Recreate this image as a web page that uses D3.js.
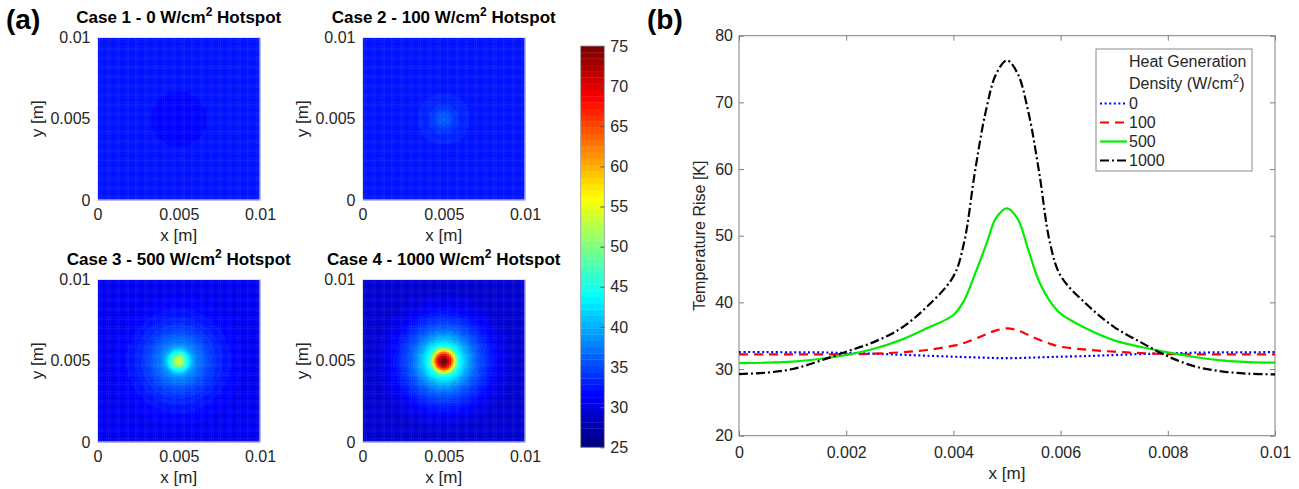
<!DOCTYPE html>
<html>
<head>
<meta charset="utf-8">
<script src="https://cdn.jsdelivr.net/npm/d3@7"></script>
<style>
  html, body { margin: 0; padding: 0; background: #fff; }
  svg { display: block; font-family: Arial, "Liberation Sans", Helvetica, sans-serif; }
</style>
</head>
<body>
<svg id="svg" width="1299" height="489"></svg>
<script>
// ── Data ──────────────────────────────────────────────────────────────────────

// x positions (m) along the centre line y = 0.005
const xPos = [0, 0.0005, 0.001, 0.0015, 0.002, 0.0025, 0.003, 0.0035, 0.004, 0.0042,
  0.0044, 0.0046, 0.0048, 0.005, 0.0052, 0.0054, 0.0056, 0.0058, 0.006, 0.0065,
  0.007, 0.0075, 0.008, 0.0085, 0.009, 0.0095, 0.01];

// temperature rise (K) for each hotspot heat generation density
const rise0    = [32.55, 32.55, 32.5, 32.5, 32.4, 32.3, 32.15, 32.0, 31.85, 31.8,
  31.75, 31.7, 31.65, 31.65, 31.65, 31.7, 31.75, 31.8, 31.85, 31.95,
  32.1, 32.25, 32.35, 32.45, 32.5, 32.5, 32.55];
const rise100  = [32.2, 32.2, 32.2, 32.2, 32.2, 32.3, 32.5, 32.85, 33.5, 33.9,
  34.5, 35.2, 35.8, 36.1, 35.8, 35.1, 34.4, 33.8, 33.35, 32.9,
  32.6, 32.4, 32.25, 32.2, 32.2, 32.2, 32.2];
const rise500  = [30.9, 30.95, 31.1, 31.5, 32.1, 33.0, 34.3, 36.1, 38.1, 40.3,
  44.2, 48.4, 52.7, 54.1, 52.5, 47.8, 43.1, 40.2, 38.3, 36.0,
  34.3, 33.3, 32.5, 31.8, 31.3, 31.05, 30.95];
const rise1000 = [29.25, 29.45, 30.0, 31.2, 32.6, 34.0, 36.0, 39.3, 43.9, 49.0,
  59.5, 68.5, 74.3, 76.3, 74.3, 68.5, 59.5, 49.0, 44.0, 39.6,
  36.3, 34.0, 31.9, 30.4, 29.65, 29.3, 29.2];

const densities   = ['0', '100', '500', '1000'];
const caseNames   = ['Case 1', 'Case 2', 'Case 3', 'Case 4'];
const allSeries   = [rise0, rise100, rise500, rise1000];

const mapTicks    = [0, 0.005, 0.01];
const barTicks    = [25, 30, 35, 40, 45, 50, 55, 60, 65, 70, 75];
const riseTicks   = [20, 30, 40, 50, 60, 70, 80];
const xLineTicks  = [0, 0.002, 0.004, 0.006, 0.008, 0.01];

// ── Layout ────────────────────────────────────────────────────────────────────

const svg = d3.select('#svg');
const TEXT = '#262626';
const AXIS = '#808080';
const FONT = 'Arial, "Liberation Sans", sans-serif';

const mapLeft = [97.5, 362.5];
const mapTop  = [37.5, 279.5];
const mapSize = 162.5;

const bar  = { x: 580.7, y: 46, w: 23.6, h: 401.3 };
const plot = { x: 739, y: 35.7, w: 536, h: 400 };

// ── Jet colormap (64 levels) ──────────────────────────────────────────────────

const clamp01 = v => Math.max(0, Math.min(1, v));
function jet(t) {
  return d3.rgb(
    255 * clamp01(1.5 - Math.abs(4 * t - 3)),
    255 * clamp01(1.5 - Math.abs(4 * t - 2)),
    255 * clamp01(1.5 - Math.abs(4 * t - 1))
  ).formatHex();
}
const jetColors = d3.range(64).map(i => jet(i / 63));
const color = d3.scaleQuantize().domain([25, 75]).range(jetColors);

// ── Panel labels ──────────────────────────────────────────────────────────────

svg.append('text').attr('x', 6).attr('y', 29).text('(a)')
  .style('font-size', '28px').style('font-weight', 'bold').style('fill', '#000');
svg.append('text').attr('x', 647).attr('y', 29).text('(b)')
  .style('font-size', '28px').style('font-weight', 'bold').style('fill', '#000');

// ── Heat maps ─────────────────────────────────────────────────────────────────

const nCells = 90;
const cellW  = 0.01 / nCells;

allSeries.forEach((series, k) => {
  const left = mapLeft[k % 2];
  const top  = mapTop[Math.floor(k / 2)];
  const sx = d3.scaleLinear().domain([0, 0.01]).range([left, left + mapSize]);
  const sy = d3.scaleLinear().domain([0, 0.01]).range([top + mapSize, top]);

  // radial profile taken from the centre-line curve
  const profile = d3.scaleLinear().domain(xPos).range(series).clamp(true);
  const cells = [];
  for (let i = 0; i < nCells; i++) {
    for (let j = 0; j < nCells; j++) {
      const cx = (i + 0.5) * cellW, cy = (j + 0.5) * cellW;
      const r  = Math.hypot(cx - 0.005, cy - 0.005);
      const t  = (profile(0.005 - r) + profile(0.005 + r)) / 2;
      cells.push({ i, j, t });
    }
  }

  const g = svg.append('g');
  const cw = sx(cellW) - sx(0);
  g.selectAll('rect.cell')
    .data(cells)
    .join('rect')
    .attr('class', 'cell')
    .attr('x', d => sx(d.i * cellW))
    .attr('y', d => sy((d.j + 1) * cellW))
    .attr('width', cw + 0.4)
    .attr('height', cw + 0.4)
    .attr('fill', d => color(d.t));

  g.append('rect')
    .attr('x', left).attr('y', top).attr('width', mapSize).attr('height', mapSize)
    .attr('fill', 'none').attr('stroke', '#dde3f2').attr('stroke-width', 1);

  const xAxis = g.append('g').attr('transform', `translate(0,${top + mapSize})`)
    .call(d3.axisBottom(sx).tickValues(mapTicks).tickFormat(d => String(d)).tickSize(0).tickPadding(8.5));
  const yAxis = g.append('g').attr('transform', `translate(${left},0)`)
    .call(d3.axisLeft(sy).tickValues(mapTicks).tickFormat(d => String(d)).tickSize(0).tickPadding(7));
  [xAxis, yAxis].forEach(a => {
    a.select('.domain').remove();
    a.selectAll('text').style('font-size', '16px').style('fill', TEXT).style('font-family', FONT);
  });

  g.append('text')
    .attr('x', left + mapSize / 2).attr('y', top + mapSize + 40.5)
    .attr('text-anchor', 'middle').text('x [m]')
    .style('font-size', '17px').style('fill', TEXT);
  g.append('text')
    .attr('transform', `translate(${left - 55},${top + mapSize / 2}) rotate(-90)`)
    .attr('text-anchor', 'middle').text('y [m]')
    .style('font-size', '17px').style('fill', TEXT);

  const title = g.append('text')
    .attr('x', left + mapSize / 2).attr('y', top - 15)
    .attr('text-anchor', 'middle')
    .style('font-size', '17px').style('font-weight', 'bold').style('fill', '#000');
  title.append('tspan').text(`${caseNames[k]} - ${densities[k]} W/cm`);
  title.append('tspan').text('2').attr('dy', -7).style('font-size', '12px');
  title.append('tspan').text(' Hotspot').attr('dy', 7);
});

// ── Colour bar ────────────────────────────────────────────────────────────────

const by = d3.scaleLinear().domain([25, 75]).range([bar.y + bar.h, bar.y]);
const barStep = 50 / 64;
svg.append('g').selectAll('rect')
  .data(d3.range(64))
  .join('rect')
  .attr('x', bar.x)
  .attr('y', i => by(25 + (i + 1) * barStep))
  .attr('width', bar.w)
  .attr('height', i => by(25 + i * barStep) - by(25 + (i + 1) * barStep) + 0.3)
  .attr('fill', i => jetColors[i]);

svg.append('rect')
  .attr('x', bar.x).attr('y', bar.y).attr('width', bar.w).attr('height', bar.h)
  .attr('fill', 'none').attr('stroke', '#9a9a9a').attr('stroke-width', 0.8);

const barAxis = svg.append('g').attr('transform', `translate(${bar.x + bar.w},0)`)
  .call(d3.axisRight(by).tickValues(barTicks).tickSizeInner(-4).tickSizeOuter(0).tickPadding(6));
barAxis.select('.domain').remove();
barAxis.selectAll('line').attr('stroke', '#555');
barAxis.selectAll('text').style('font-size', '16px').style('fill', TEXT).style('font-family', FONT);

// ── Line chart (b) ────────────────────────────────────────────────────────────

const x = d3.scaleLinear().domain([0, 0.01]).range([plot.x, plot.x + plot.w]);
const y = d3.scaleLinear().domain([20, 80]).range([plot.y + plot.h, plot.y]);

const lineStyles = [
  { stroke: '#0000ff', dash: '2 2.6', width: 2.2 },
  { stroke: '#ff0000', dash: '9 6',   width: 2.2 },
  { stroke: '#00ee00', dash: null,    width: 2.2 },
  { stroke: '#000000', dash: '9 3 2 3', width: 2.2 }
];

const gb = svg.append('g');

function styleAxis(a, labels) {
  a.select('.domain').remove();
  a.selectAll('line').attr('stroke', AXIS);
  a.selectAll('text').style('font-size', '16px').style('fill', labels ? TEXT : 'none')
    .style('font-family', FONT);
}

styleAxis(gb.append('g').attr('transform', `translate(0,${plot.y + plot.h})`)
  .call(d3.axisBottom(x).tickValues(xLineTicks).tickFormat(d => String(d))
    .tickSizeInner(-5).tickSizeOuter(0).tickPadding(11)), true);
styleAxis(gb.append('g').attr('transform', `translate(${plot.x},0)`)
  .call(d3.axisLeft(y).tickValues(riseTicks).tickSizeInner(-5).tickSizeOuter(0).tickPadding(6)), true);
styleAxis(gb.append('g').attr('transform', `translate(0,${plot.y})`)
  .call(d3.axisTop(x).tickValues(xLineTicks).tickFormat('').tickSizeInner(-5).tickSizeOuter(0)), false);
styleAxis(gb.append('g').attr('transform', `translate(${plot.x + plot.w},0)`)
  .call(d3.axisRight(y).tickValues(riseTicks).tickFormat('').tickSizeInner(-5).tickSizeOuter(0)), false);

gb.append('rect')
  .attr('x', plot.x).attr('y', plot.y).attr('width', plot.w).attr('height', plot.h)
  .attr('fill', 'none').attr('stroke', AXIS).attr('stroke-width', 1);

const line = d3.line()
  .x((d, i) => x(xPos[i]))
  .y(d => y(d))
  .curve(d3.curveCatmullRom.alpha(0.5));

gb.append('defs').append('clipPath').attr('id', 'plot-clip')
  .append('rect').attr('x', plot.x).attr('y', plot.y).attr('width', plot.w).attr('height', plot.h);

gb.append('g').attr('clip-path', 'url(#plot-clip)')
  .selectAll('path')
  .data(allSeries)
  .join('path')
  .attr('d', d => line(d))
  .attr('fill', 'none')
  .attr('stroke', (d, i) => lineStyles[i].stroke)
  .attr('stroke-width', (d, i) => lineStyles[i].width)
  .attr('stroke-dasharray', (d, i) => lineStyles[i].dash);

gb.append('text')
  .attr('x', plot.x + plot.w / 2).attr('y', plot.y + plot.h + 43)
  .attr('text-anchor', 'middle').text('x [m]')
  .style('font-size', '17px').style('fill', TEXT);
gb.append('text')
  .attr('transform', `translate(704.5,${plot.y + plot.h / 2}) rotate(-90)`)
  .attr('text-anchor', 'middle').text('Temperature Rise [K]')
  .style('font-size', '16px').style('fill', TEXT);

// ── Legend ────────────────────────────────────────────────────────────────────

const leg = gb.append('g');
leg.append('rect')
  .attr('x', 1096).attr('y', 49).attr('width', 156).attr('height', 122)
  .attr('fill', '#fff').attr('stroke', '#8a8a8a').attr('stroke-width', 1);

leg.append('text').attr('x', 1129).attr('y', 67).text('Heat Generation')
  .style('font-size', '16px').style('fill', TEXT);
const dens = leg.append('text').attr('x', 1129).attr('y', 89)
  .style('font-size', '16px').style('fill', TEXT);
dens.append('tspan').text('Density (W/cm');
dens.append('tspan').text('2').attr('dy', -7).style('font-size', '11px');
dens.append('tspan').text(')').attr('dy', 7);

densities.forEach((lab, i) => {
  const base = 109 + i * 19;
  leg.append('line')
    .attr('x1', 1100).attr('x2', 1127).attr('y1', base - 5.5).attr('y2', base - 5.5)
    .attr('stroke', lineStyles[i].stroke)
    .attr('stroke-width', lineStyles[i].width)
    .attr('stroke-dasharray', lineStyles[i].dash);
  leg.append('text').attr('x', 1129).attr('y', base).text(lab)
    .style('font-size', '16px').style('fill', TEXT);
});
</script>
</body>
</html>
